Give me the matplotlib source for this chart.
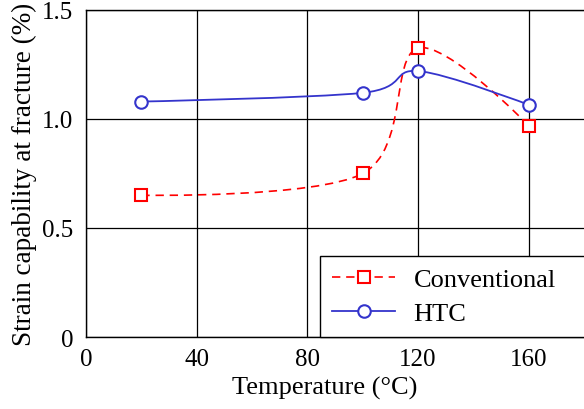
import numpy as np
import matplotlib.pyplot as plt
from matplotlib.path import Path
from matplotlib.patches import PathPatch
from matplotlib.lines import Line2D

plt.rcParams['font.family'] = ['Liberation Serif', 'DejaVu Serif']

temps = [20, 100, 120, 160]
conventional = [0.65, 0.75, 1.325, 0.97]
htc = [1.08, 1.12, 1.22, 1.065]

x_ticks = [0, 40, 80, 120, 160]
y_ticks = [0, 0.5, 1.0, 1.5]
y_tick_labels = ['0', '0.5', '1.0', '1.5']

RED = '#ff0000'
BLUE = '#3434cc'
DASH = (0, (5, 3.5))


def smooth_path(xs, ys, tension=0.6):
    # tikz-style "smooth" drawing: cubic bezier with tangents from neighbours
    pts = np.column_stack([xs, ys]).astype(float)
    k = 0.2775 * tension
    verts = [pts[0]]
    codes = [Path.MOVETO]
    n = len(pts)
    for i in range(n - 1):
        p0, p1 = pts[i], pts[i + 1]
        t0 = (pts[i + 1] - pts[i - 1]) if i > 0 else np.zeros(2)
        t1 = (pts[i + 2] - pts[i]) if i + 2 < n else np.zeros(2)
        verts += [p0 + k * t0, p1 - k * t1, p1]
        codes += [Path.CURVE4] * 3
    return Path(verts, codes)


fig = plt.figure(figsize=(5.84, 4.10), dpi=100)
ax = fig.add_axes([0.1473, 0.1756, 0.8527, 0.7976])

ax.add_patch(PathPatch(smooth_path(temps, conventional), fill=False,
                       edgecolor=RED, lw=1.2, linestyle=DASH, zorder=3))
ax.add_patch(PathPatch(smooth_path(temps, htc), fill=False,
                       edgecolor=BLUE, lw=1.3, zorder=3))
ax.plot(temps, conventional, ls='none', marker='s', ms=8.5, mfc='white',
        mec=RED, mew=1.5, zorder=4)
ax.plot(temps, htc, ls='none', marker='o', ms=9, mfc='white',
        mec=BLUE, mew=1.5, zorder=4)

ax.set_xlim(0, 180)
ax.set_ylim(0, 1.5)
ax.set_xticks(x_ticks)
ax.set_yticks(y_ticks)
ax.set_yticklabels(y_tick_labels)
ax.tick_params(length=0, labelsize=18)
ax.tick_params(axis='x', pad=8)
ax.tick_params(axis='y', pad=9)
ax.grid(True, color='black', lw=0.9)
ax.set_axisbelow(True)
for s in ax.spines.values():
    s.set_linewidth(1.0)
ax.spines['right'].set_visible(False)

ax.set_xlabel('Temperature (°C)', fontsize=19)
ax.xaxis.set_label_coords((325 - 86) / 498, -0.118, transform=ax.transAxes)
ax.xaxis.label.set_va('top')
ax.set_ylabel('Strain capability at fracture (%)', fontsize=19.5, labelpad=4)

handles = [
    Line2D([], [], color=RED, lw=1.2, ls=DASH, marker='s', ms=8.5,
           mfc='white', mec=RED, mew=1.5),
    Line2D([], [], color=BLUE, lw=1.3, marker='o', ms=9, mfc='white',
           mec=BLUE, mew=1.5),
]
x0 = (320 - 86) / 498
leg = ax.legend(handles, ['Conventional', 'HTC'], loc='lower left',
                bbox_to_anchor=(x0, 0, 1.05 - x0, 0.3), mode='expand',
                borderaxespad=0, fontsize=19, fancybox=False, framealpha=1,
                edgecolor='black', handlelength=2.4, handletextpad=0.7,
                labelspacing=0.4, borderpad=0.45)
leg.get_frame().set_linewidth(1.0)

fig.savefig('out.png', dpi=100)
